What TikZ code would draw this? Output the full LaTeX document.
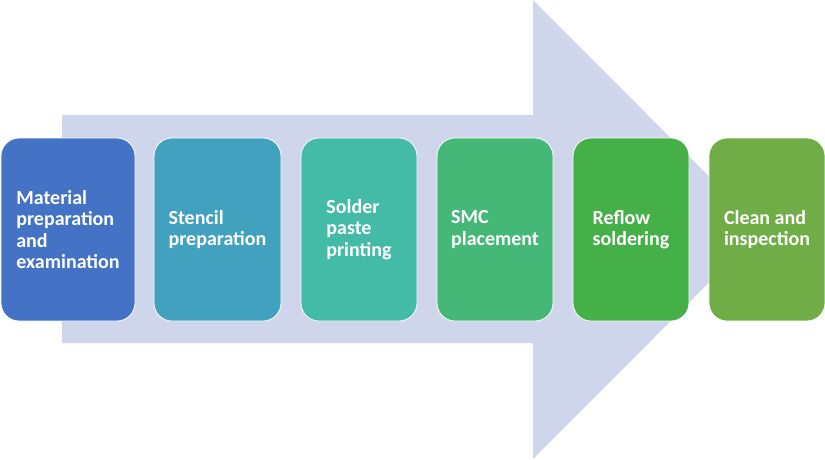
\documentclass[tikz,border=0pt]{standalone}
\usepackage{fontspec}
\setmainfont{Carlito}
\usetikzlibrary{positioning}
\definecolor{arrowfill}{HTML}{CFD5EA}
\definecolor{stageA}{HTML}{4472C4}
\definecolor{stageB}{HTML}{43A1C0}
\definecolor{stageC}{HTML}{44BBA7}
\definecolor{stageD}{HTML}{45B878}
\definecolor{stageE}{HTML}{46B048}
\definecolor{stageF}{HTML}{70AD47}
\tikzset{
    stage/.style={draw=white, line width=0.8pt, rounded corners=18pt,
        minimum width=116pt, minimum height=183pt, inner sep=0pt, outer sep=0pt,
        text=white, align=left, font=\fontsize{20}{21.4}\selectfont\bfseries},
}

\begin{document}
\begin{tikzpicture}[x=1pt,y=-1pt]
    \useasboundingbox (0,0) rectangle (825,459);
    % big background arrow
    \fill[arrowfill] (62,115) -- (533,115) -- (533,0) -- (762,229.5)
        -- (533,459) -- (533,343) -- (62,343) -- cycle;
    % process steps
    \node[stage, fill=stageA, minimum width=134pt] (material) at (68,229.5)
        {Material\\preparation\\and\\examination};
    \node[stage, fill=stageB, minimum width=127pt, right=19pt of material] (stencil)
        {Stencil\\preparation};
    \node[stage, fill=stageC, right=20pt of stencil] (paste)
        {Solder\\paste\\printing};
    \node[stage, fill=stageD, right=20pt of paste] (smc)
        {SMC\\placement};
    \node[stage, fill=stageE, right=20pt of smc] (reflow)
        {Reflow\\soldering};
    \node[stage, fill=stageF, right=20pt of reflow] (clean)
        {Clean and\\inspection};
\end{tikzpicture}
\end{document}
